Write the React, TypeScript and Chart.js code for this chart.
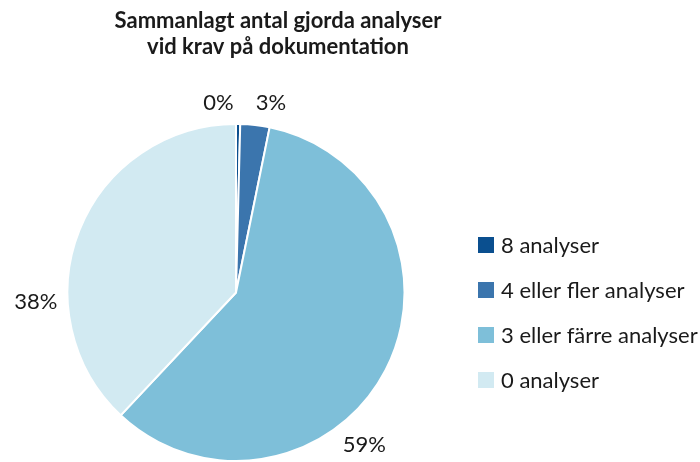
import React, { useEffect, useRef } from "react";
import { Chart, registerables } from "chart.js";

Chart.register(...registerables);

const TITLE_LINES = ["Sammanlagt antal gjorda analyser", "vid krav på dokumentation"];
const CATEGORIES = ["8 analyser", "4 eller fler analyser", "3 eller färre analyser", "0 analyser"];
const VALUES = [0.4, 2.8, 58.8, 38.0];
const PCT_LABELS = ["0%", "3%", "59%", "38%"];
const COLORS = ["#0a4f8f", "#3b75ad", "#7ebfd9", "#d2eaf2"];

// label placement: angle shift (deg) from slice mid-angle and distance beyond the rim
const LABEL_ANGLE_SHIFT = [-6, 4, 22.6, -24.3];
const LABEL_GAP = [22, 24, 31, 32];

const FONT = "Lato, 'Open Sans', sans-serif";

const overlayPlugin = {
  id: "overlay",
  afterDraw(chart: any) {
    const ctx = chart.ctx as CanvasRenderingContext2D;
    ctx.save();
    // title
    ctx.fillStyle = "#1a1a1a";
    ctx.font = `bold 22px ${FONT}`;
    ctx.textAlign = "center";
    ctx.textBaseline = "alphabetic";
    TITLE_LINES.forEach((t, i) => ctx.fillText(t, 278, 28 + i * 26));

    // percentage labels
    const meta = chart.getDatasetMeta(0);
    ctx.font = `22px ${FONT}`;
    ctx.textBaseline = "middle";
    ctx.textAlign = "center";
    meta.data.forEach((arc: any, i: number) => {
      const p = arc.getProps(["x", "y", "startAngle", "endAngle", "outerRadius"], true);
      const mid = (p.startAngle + p.endAngle) / 2 + (LABEL_ANGLE_SHIFT[i] * Math.PI) / 180;
      const r = p.outerRadius + LABEL_GAP[i];
      ctx.fillText(PCT_LABELS[i], p.x + Math.cos(mid) * r, p.y + Math.sin(mid) * r);
    });

    // legend
    ctx.textAlign = "left";
    ctx.font = `22px ${FONT}`;
    CATEGORIES.forEach((c, i) => {
      const cy = 245 + i * 45;
      ctx.fillStyle = COLORS[i];
      ctx.fillRect(478, cy - 8, 16, 16);
      ctx.fillStyle = "#1a1a1a";
      ctx.fillText(c, 501, cy + 1);
    });
    ctx.restore();
  },
};

export default function App() {
  const ref = useRef<HTMLCanvasElement | null>(null);
  useEffect(() => {
    if (!ref.current) return;
    const chart = new Chart(ref.current, {
      type: "pie",
      data: {
        labels: CATEGORIES,
        datasets: [
          {
            data: VALUES,
            backgroundColor: COLORS,
            borderColor: "#ffffff",
            borderWidth: 2,
          },
        ],
      },
      options: {
        responsive: false,
        animation: false,
        layout: { padding: { left: 66, top: 123, right: 294, bottom: -3 } },
        plugins: {
          legend: { display: false },
          title: { display: false },
          tooltip: { enabled: false },
        },
      },
      plugins: [overlayPlugin],
    });
    return () => chart.destroy();
  }, []);
  return (
    <div style={{ position: "absolute", left: 0, top: 0, width: 700, height: 462, background: "#fff" }}>
      <canvas ref={ref} width={700} height={462} />
    </div>
  );
}
